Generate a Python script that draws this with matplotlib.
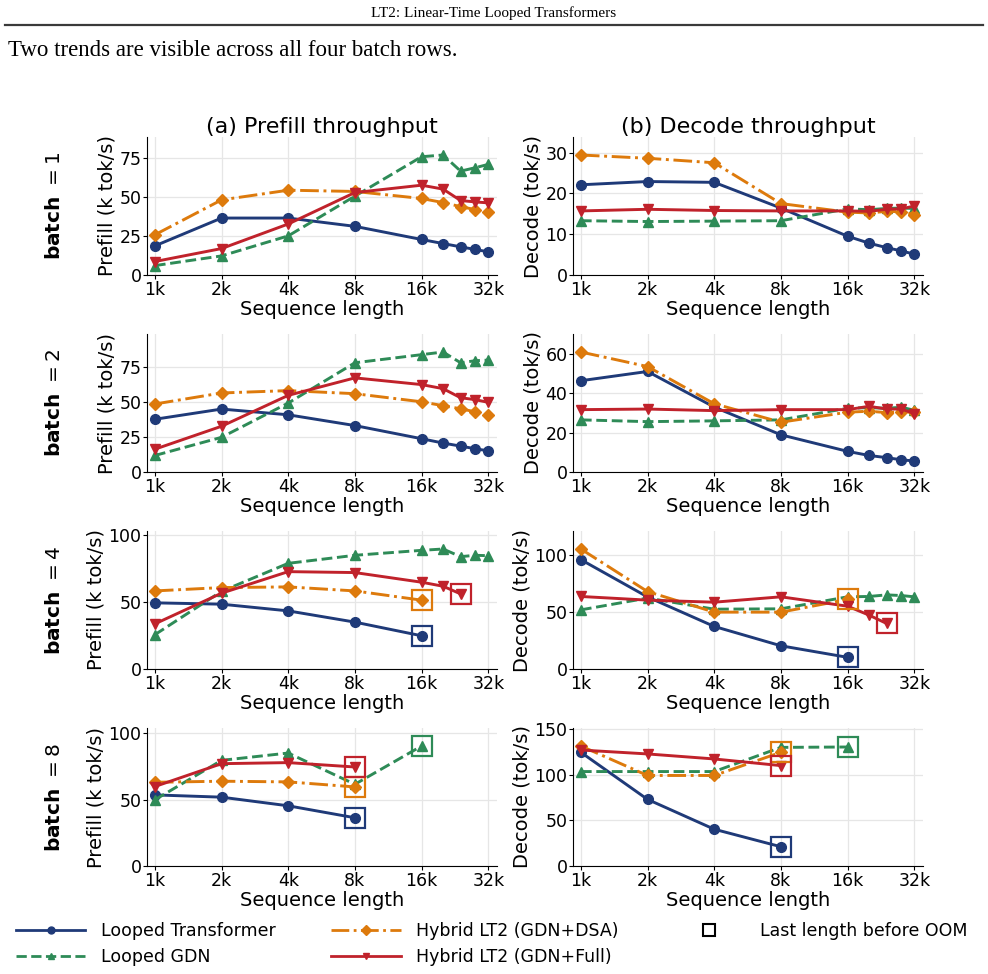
import numpy as np
import matplotlib
matplotlib.use("Agg")
import matplotlib.pyplot as plt
from matplotlib.lines import Line2D
from matplotlib.ticker import MaxNLocator

nan = np.nan

# sequence lengths (tokens) and axis ticks
seq_lens = [1024, 2048, 4096, 8192, 16384, 20480, 24576, 28672, 32768]
tick_lens = [1024, 2048, 4096, 8192, 16384, 32768]
tick_labels = ["1k", "2k", "4k", "8k", "16k", "32k"]
batches = [1, 2, 4, 8]

# prefill throughput (k tok/s), one row per batch size
prefill_lt = [
    [18.6, 36.4, 36.4, 31.1, 22.7, 20.1, 18.0, 16.3, 14.8],
    [37.7, 45.0, 40.9, 33.2, 23.8, 20.7, 18.5, 16.6, 15.1],
    [49.4, 48.4, 43.4, 35.0, 24.8, nan, nan, nan, nan],
    [53.5, 51.8, 45.3, 36.3, nan, nan, nan, nan, nan],
]
prefill_gdn = [
    [6.0, 12.2, 25.0, 50.4, 75.6, 76.7, 66.4, 68.6, 70.7],
    [11.8, 24.8, 49.3, 78.1, 83.9, 85.8, 78.1, 79.6, 80.0],
    [25.6, 58.0, 78.9, 84.9, 88.6, 89.6, 83.9, 84.9, 84.6],
    [49.8, 79.5, 85.0, 61.5, 90.3, nan, nan, nan, nan],
]
prefill_dsa = [
    [25.7, 48.0, 54.2, 53.4, 48.9, 46.3, 43.7, 41.8, 40.0],
    [48.6, 56.5, 58.2, 56.0, 50.2, 47.4, 45.2, 43.0, 40.6],
    [58.3, 60.8, 61.3, 58.3, 51.4, nan, nan, nan, nan],
    [63.0, 63.8, 63.3, 59.5, nan, nan, nan, nan, nan],
]
prefill_full = [
    [8.6, 16.9, 32.6, 52.7, 57.4, 54.9, 47.6, 46.7, 46.1],
    [16.3, 32.7, 54.8, 67.3, 62.5, 59.6, 53.1, 51.7, 49.8],
    [33.7, 56.6, 72.7, 72.0, 64.8, 61.8, 56.1, nan, nan],
    [59.8, 77.0, 77.8, 74.5, nan, nan, nan, nan, nan],
]

# decode throughput (tok/s)
decode_lt = [
    [22.1, 22.9, 22.7, 16.4, 9.5, 7.8, 6.7, 5.9, 5.1],
    [46.4, 51.1, 33.0, 18.9, 10.5, 8.4, 7.3, 6.2, 5.6],
    [95.6, 63.0, 37.2, 20.3, 10.2, nan, nan, nan, nan],
    [124.6, 73.0, 40.3, 21.1, nan, nan, nan, nan, nan],
]
decode_gdn = [
    [13.3, 13.1, 13.2, 13.3, 16.2, 16.0, 16.3, 16.4, 16.3],
    [26.5, 25.6, 26.0, 26.5, 32.4, 32.7, 32.4, 32.9, 31.4],
    [51.7, 62.0, 52.3, 52.6, 63.1, 63.4, 64.8, 64.2, 63.1],
    [103.5, 103.5, 103.5, 130.0, 130.4, nan, nan, nan, nan],
]
decode_dsa = [
    [29.4, 28.6, 27.5, 17.5, 15.4, 15.2, 15.6, 15.5, 14.8],
    [61.0, 53.6, 34.7, 25.3, 30.4, 30.9, 30.2, 30.5, 30.7],
    [104.9, 67.7, 49.7, 49.7, 60.8, nan, nan, nan, nan],
    [131.5, 99.2, 99.2, 124.6, nan, nan, nan, nan, nan],
]
decode_full = [
    [15.7, 16.1, 15.8, 15.7, 15.7, 15.6, 16.1, 16.2, 16.9],
    [31.7, 32.0, 31.2, 31.7, 31.7, 33.4, 32.0, 32.0, 29.7],
    [63.4, 60.2, 58.4, 63.1, 54.9, 47.1, 39.8, nan, nan],
    [127.1, 122.8, 117.3, 110.0, nan, nan, nan, nan, nan],
]

series = [
    ("Looped Transformer", "#1f3a78", "-", "o", 7, prefill_lt, decode_lt),
    ("Looped GDN", "#2e8b57", "--", "^", 7, prefill_gdn, decode_gdn),
    ("Hybrid LT2 (GDN+DSA)", "#dd7a0c", "-.", "D", 6.5, prefill_dsa, decode_dsa),
    ("Hybrid LT2 (GDN+Full)", "#c0222b", "-", "v", 7, prefill_full, decode_full),
]

plt.rcParams["font.family"] = ["DejaVu Sans"]

fig = plt.figure(figsize=(9.88, 9.74), dpi=100)

# page header and text above the figure
fig.text(0.5, 1 - 13 / 974, "LT2: Linear-Time Looped Transformers",
         family="Liberation Serif", fontsize=11, ha="center", va="center")
fig.add_artist(Line2D([5 / 988, 983 / 988], [1 - 25 / 974, 1 - 25 / 974],
                      color="#3a3a3a", lw=1.6))
fig.text(8 / 988, 1 - 51 / 974, "Two trends are visible across all four batch rows.",
         family="Liberation Serif", fontsize=16.5, ha="left", va="center")

col_left = [147 / 988, 573 / 988]
ax_w = 350 / 988
row_bottom_px = [275, 472, 669, 866]
ax_h = 138 / 974

for r, b in enumerate(batches):
    bottom = 1 - row_bottom_px[r] / 974
    for c in range(2):
        ax = fig.add_axes([col_left[c], bottom, ax_w, ax_h])
        ymax = 0
        for label, color, ls, marker, ms, pre, dec in series:
            vals = np.array((pre if c == 0 else dec)[r], dtype=float)
            ok = ~np.isnan(vals)
            x = np.array(seq_lens)[ok]
            y = vals[ok]
            ax.plot(x, y, color=color, ls=ls, lw=2.1, marker=marker, ms=ms,
                    label=label, zorder=3)
            ymax = max(ymax, y.max())
            if x[-1] < seq_lens[-1]:
                # box marks the last length that ran before OOM
                ax.plot(x[-1], y[-1], marker="s", ms=14, mfc="none", mec=color,
                        mew=1.6, ls="none", zorder=4)
        ax.set_xscale("log", base=2)
        ax.set_xticks(tick_lens)
        ax.set_xticklabels(tick_labels)
        ax.minorticks_off()
        ax.set_xlim(1024 / 1.085, 32768 * 1.095)
        ax.set_ylim(0, ymax * 1.15)
        ax.yaxis.set_major_locator(MaxNLocator(nbins=4, steps=[1, 2, 2.5, 5, 10]))
        ax.grid(True, color="#e6e6e6", lw=0.9)
        ax.set_axisbelow(True)
        for s in ["top", "right"]:
            ax.spines[s].set_visible(False)
        ax.tick_params(labelsize=12.5, length=3, pad=1)
        ax.set_xlabel("Sequence length", fontsize=14, labelpad=1)
        ax.set_ylabel("Prefill (k tok/s)" if c == 0 else "Decode (tok/s)",
                      fontsize=14, labelpad=2)
        if r == 0:
            ax.set_title("(a) Prefill throughput" if c == 0 else "(b) Decode throughput",
                         fontsize=16, pad=3)
    fig.text(55 / 988, bottom + ax_h / 2, r"batch $= %d$" % b, rotation=90,
             fontsize=14.5, fontweight="bold", ha="center", va="center")

handles = []
for label, color, ls, marker, ms, pre, dec in series:
    handles.append(Line2D([], [], color=color, ls=ls, lw=2, marker=marker, ms=5,
                          label=label))
handles.append(Line2D([], [], ls="none", marker="s", ms=9, mfc="none", mec="black",
                      mew=1.5, label="Last length before OOM"))
fig.legend(handles=handles, loc="upper left", bbox_to_anchor=(16 / 988, 1 - 922 / 974),
           ncol=3, frameon=False, fontsize=12.5, handlelength=4, handletextpad=0.9,
           columnspacing=3.2, labelspacing=0.45, borderpad=0, borderaxespad=0)

fig.savefig("out.png", dpi=100)
